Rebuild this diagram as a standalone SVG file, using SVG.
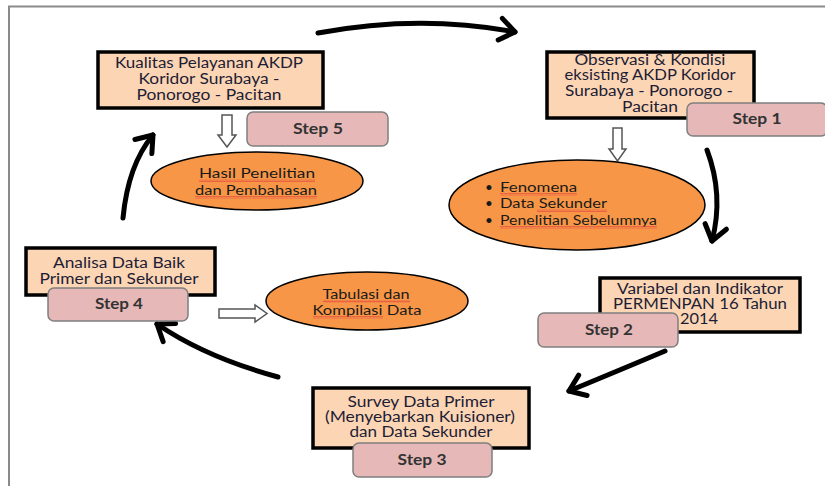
<svg xmlns="http://www.w3.org/2000/svg" width="825" height="486" viewBox="0 0 825 486">
<defs>
<style>
.box{fill:#FCD5B4;stroke:#000;stroke-width:3.5}
.step{fill:#E6B9B8;stroke:#7F7F7F;stroke-width:1.5}
.ell{fill:#F79646;stroke:#000;stroke-width:1.5}
.t{font-family:Lato,"Open Sans",sans-serif;font-size:14.5px;fill:#1d1d35;text-anchor:middle}
.s{font-family:Lato,"Open Sans",sans-serif;font-size:15px;font-weight:bold;fill:#333;text-anchor:middle}
.e{font-family:Lato,"Open Sans",sans-serif;font-size:13.5px;fill:#1a1a1a}
.conn{fill:none;stroke:#000;stroke-width:5;stroke-linecap:round}
.hollow{fill:#fff;stroke:#555;stroke-width:1.5}
.sq{fill:url(#wave)}
</style>
<marker id="ah" markerUnits="userSpaceOnUse" markerWidth="30" markerHeight="30" refX="0" refY="0" viewBox="-20 -15 30 30" orient="auto" overflow="visible">
<path d="M-15,-11 L0,0 L-15,11" fill="none" stroke="#000" stroke-width="5" stroke-linecap="round" stroke-linejoin="round"/>
</marker>
<pattern id="wave" width="4" height="3" patternUnits="userSpaceOnUse">
<path d="M0,2.5 L1,0.5 L2,2.5 L3,0.5 L4,2.5" fill="none" stroke="#e04040" stroke-width="0.6"/>
</pattern>
</defs>
<rect width="825" height="486" fill="#fff"/>
<path d="M9,486 V6.5 H825" fill="none" stroke="#8a8a8a" stroke-width="2"/>

<g id="connectors">
<path class="conn" d="M318,33 Q420,14 515,32" marker-end="url(#ah)"/>
<path class="conn" d="M707,150 Q724,195 712,241" marker-end="url(#ah)"/>
<path class="conn" d="M665,351 Q620,370 569,391" marker-end="url(#ah)"/>
<path class="conn" d="M278,377 Q205,357 157,324" marker-end="url(#ah)"/>
<path class="conn" d="M123,218 Q128,165 153,135" marker-end="url(#ah)"/>
<polygon class="hollow" points="222,115 232,115 232,135 236,135 227,147 218,135 222,135"/>
<polygon class="hollow" points="613,128 622,128 622,149 626,149 617.5,161 609,149 613,149"/>
<polygon class="hollow" points="219,309 255,309 255,305 267,313.5 255,322 255,318 219,318"/>
</g>

<g id="node-step5">
<rect class="box" x="98" y="52" width="225" height="56"/>
<text class="t" x="209" y="68" textLength="188" lengthAdjust="spacingAndGlyphs">Kualitas Pelayanan AKDP</text>
<text class="t" x="209" y="84" textLength="141" lengthAdjust="spacingAndGlyphs">Koridor Surabaya -</text>
<text class="t" x="209" y="100" textLength="145" lengthAdjust="spacingAndGlyphs">Ponorogo - Pacitan</text>
<rect class="step" x="247" y="112" width="141" height="34" rx="6"/>
<text class="s" x="318" y="134" textLength="50" lengthAdjust="spacingAndGlyphs">Step 5</text>
</g>

<g id="node-hasil">
<ellipse class="ell" cx="257" cy="181" rx="106" ry="29"/>
<text class="e" x="257" y="178" text-anchor="middle" textLength="116" lengthAdjust="spacingAndGlyphs">Hasil Penelitian</text>
<text class="e" x="256" y="195" text-anchor="middle" textLength="122" lengthAdjust="spacingAndGlyphs">dan Pembahasan</text>
<rect class="sq" x="199" y="179" width="116" height="3"/>
<rect class="sq" x="195" y="196" width="122" height="3"/>
</g>

<g id="node-step1">
<rect class="box" x="547" y="52" width="207" height="66"/>
<text class="t" x="650" y="65" textLength="151" lengthAdjust="spacingAndGlyphs">Observasi &amp; Kondisi</text>
<text class="t" x="650" y="80" textLength="171" lengthAdjust="spacingAndGlyphs">eksisting AKDP Koridor</text>
<text class="t" x="649" y="96" textLength="168" lengthAdjust="spacingAndGlyphs">Surabaya - Ponorogo -</text>
<text class="t" x="650" y="112" textLength="56" lengthAdjust="spacingAndGlyphs">Pacitan</text>
<rect class="step" x="687" y="103" width="140" height="33" rx="6"/>
<text class="s" x="757" y="124" textLength="49" lengthAdjust="spacingAndGlyphs">Step 1</text>
</g>

<g id="node-fenomena">
<ellipse class="ell" cx="577" cy="205" rx="128" ry="45"/>
<text class="e" x="485" y="192">•</text>
<text class="e" x="485" y="208">•</text>
<text class="e" x="485" y="225">•</text>
<text class="e" x="500" y="192" textLength="77" lengthAdjust="spacingAndGlyphs">Fenomena</text>
<text class="e" x="500" y="208" textLength="107" lengthAdjust="spacingAndGlyphs">Data Sekunder</text>
<text class="e" x="500" y="225" textLength="157" lengthAdjust="spacingAndGlyphs">Penelitian Sebelumnya</text>
<rect class="sq" x="500" y="193" width="77" height="3"/>
<rect class="sq" x="537" y="209" width="70" height="3"/>
<rect class="sq" x="500" y="226" width="157" height="3"/>
</g>

<g id="node-step2">
<rect class="box" x="600" y="278" width="200" height="54"/>
<text class="t" x="700" y="294" textLength="166" lengthAdjust="spacingAndGlyphs">Variabel dan Indikator</text>
<text class="t" x="700" y="309" textLength="174" lengthAdjust="spacingAndGlyphs">PERMENPAN 16 Tahun</text>
<text class="t" x="699" y="324" textLength="38" lengthAdjust="spacingAndGlyphs">2014</text>
<rect class="step" x="538" y="313" width="140" height="34" rx="6"/>
<text class="s" x="609" y="335" textLength="48" lengthAdjust="spacingAndGlyphs">Step 2</text>
</g>

<g id="node-step3">
<rect class="box" x="313" y="388" width="216" height="60"/>
<text class="t" x="421" y="407" textLength="147" lengthAdjust="spacingAndGlyphs">Survey Data Primer</text>
<text class="t" x="420" y="422" textLength="190" lengthAdjust="spacingAndGlyphs">(Menyebarkan Kuisioner)</text>
<text class="t" x="421" y="437" textLength="143" lengthAdjust="spacingAndGlyphs">dan Data Sekunder</text>
<rect class="step" x="353" y="443" width="139" height="34" rx="6"/>
<text class="s" x="422" y="465" textLength="49" lengthAdjust="spacingAndGlyphs">Step 3</text>
</g>

<g id="node-step4">
<rect class="box" x="26" y="248" width="189" height="47"/>
<text class="t" x="119" y="268" textLength="132" lengthAdjust="spacingAndGlyphs">Analisa Data Baik</text>
<text class="t" x="119" y="284" textLength="159" lengthAdjust="spacingAndGlyphs">Primer dan Sekunder</text>
<rect class="step" x="48" y="288" width="140" height="33" rx="6"/>
<text class="s" x="119" y="309" textLength="48" lengthAdjust="spacingAndGlyphs">Step 4</text>
</g>

<g id="node-tabulasi">
<ellipse class="ell" cx="367" cy="301" rx="101" ry="29"/>
<text class="e" x="366" y="299" text-anchor="middle" textLength="87" lengthAdjust="spacingAndGlyphs">Tabulasi dan</text>
<text class="e" x="367" y="315" text-anchor="middle" textLength="109" lengthAdjust="spacingAndGlyphs">Kompilasi Data</text>
<rect class="sq" x="323" y="300" width="87" height="3"/>
<rect class="sq" x="313" y="316" width="70" height="3"/>
</g>
</svg>
